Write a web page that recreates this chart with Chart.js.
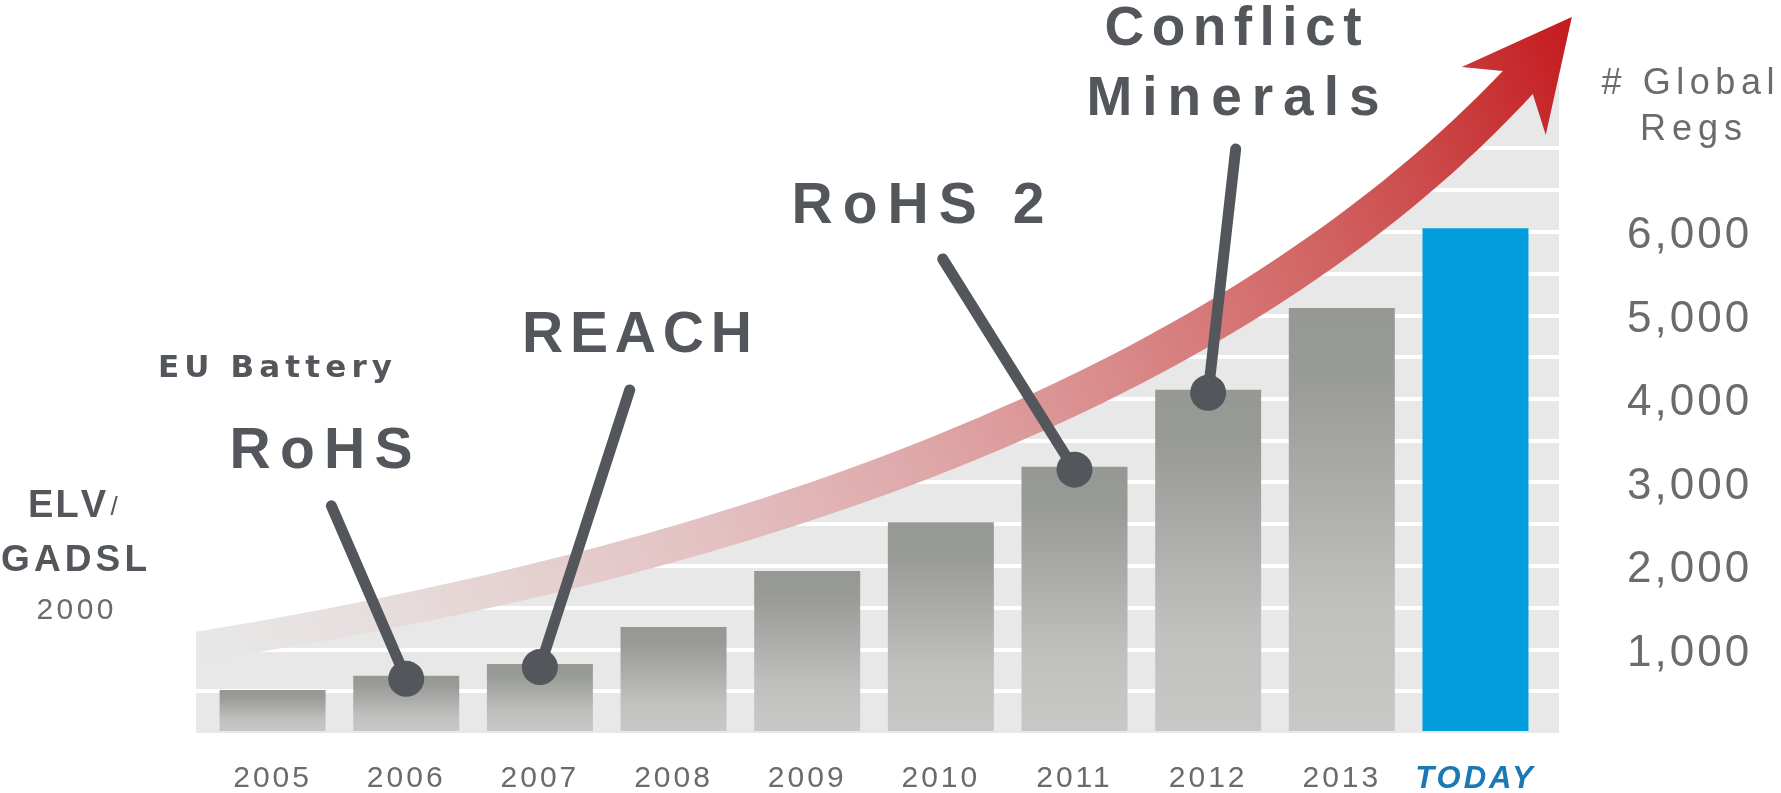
<!DOCTYPE html>
<html>
<head>
<meta charset="utf-8">
<title># Global Regs</title>
<script src="https://cdn.jsdelivr.net/npm/chart.js@4.4.0/dist/chart.umd.min.js"></script>
<style>
  html, body { margin: 0; padding: 0; background: #fff; }
  canvas { display: block; }
</style>
</head>
<body>
<canvas id="regsChart" width="1781" height="793"></canvas>
<script>
// data
const categories = ["2005", "2006", "2007", "2008", "2009", "2010", "2011", "2012", "2013", "TODAY"];
const regCounts = [515, 685, 825, 1270, 1940, 2525, 3190, 4110, 5090, 6045];
const yTickValues = [1000, 2000, 3000, 4000, 5000, 6000];
const gridStep = 500;
const gridMax = 7000;

const DARK = "#53565a";
const GRAY_TEXT = "#6a6c69";
const SANS = '"Liberation Sans", Arial, sans-serif';
const WIDE = '"DejaVu Sans", "Liberation Sans", sans-serif';
const X_MIN = -0.573;
const X_MAX = 9.625;

// arrow outline, in chart units [bar index, regs]
const arrowUpper = [[X_MIN, 1210], [3.986, 2400], [7.247, 4640], [9.205, 7928]];
const arrowLower = [[X_MIN, 850], [4.133, 1984], [7.468, 4251], [9.429, 7653]];
const arrowBarbL = [8.898, 7976];
const arrowTip = [9.721, 8575];
const arrowBarbR = [9.526, 7162];

// callout lines: start point in chart units, end on the bar top
const callouts = [
    { bar: 1, from: [0.44, 2720] },
    { bar: 2, from: [2.672, 4108] },
    { bar: 6, from: [5.014, 5677] },
    { bar: 7, from: [7.206, 6994] }
];

// free text: [text, centre x, baseline y, width, font, colour]
const labels = [
    ["EU Battery", 275, 377, 234, "bold 31px " + WIDE, DARK],
    ["RoHS", 321, 468, 183, "bold 57px " + SANS, DARK],
    ["REACH", 637, 352, 230, "bold 57px " + SANS, DARK],
    ["RoHS 2", 918, 223, 253, "bold 57px " + SANS, DARK],
    ["Conflict", 1233, 45, 257, "bold 55px " + SANS, DARK],
    ["Minerals", 1233, 115, 293, "bold 55px " + SANS, DARK],
    ["ELV", 67, 517, 78, "bold 38px " + SANS, DARK],
    ["/", 114, 515, 8, "26px " + SANS, DARK],
    ["GADSL", 74, 571, 146, "bold 37px " + SANS, DARK],
    ["2000", 75, 619, 77, "30px " + SANS, GRAY_TEXT],
    ["# Global", 1688, 94, 173, "36px " + SANS, GRAY_TEXT],
    ["Regs", 1691, 140, 102, "36px " + SANS, GRAY_TEXT]
];

function pt(chart, p) {
    return { x: chart.scales.x.getPixelForValue(p[0]), y: chart.scales.y.getPixelForValue(p[1]) };
}

function spacedText(ctx, text, cx, y, width, font, color) {
    ctx.font = font;
    ctx.fillStyle = color;
    ctx.textAlign = "left";
    ctx.textBaseline = "alphabetic";
    const chars = [...text];
    const widths = chars.map(ch => ctx.measureText(ch).width);
    const total = widths.reduce((s, w) => s + w, 0);
    if (chars.length < 2) {
        ctx.textAlign = "center";
        ctx.fillText(text, cx, y);
        return;
    }
    const gap = (width - total) / (chars.length - 1);
    let x = cx - width / 2;
    chars.forEach((ch, i) => {
        ctx.fillText(ch, x, y);
        x += widths[i] + gap;
    });
}

const decor = {
    id: "decor",
    beforeDraw(chart) {
        const ctx = chart.ctx;
        const a = chart.chartArea;
        const up = arrowUpper.map(p => pt(chart, p));
        const tip = pt(chart, arrowTip);
        const barbL = pt(chart, arrowBarbL);
        const barbR = pt(chart, arrowBarbR);

        // grey plot background, cut off above the arrow
        ctx.save();
        ctx.fillStyle = "#e8e8e8";
        ctx.beginPath();
        ctx.moveTo(a.left, a.bottom);
        ctx.lineTo(up[0].x, up[0].y);
        ctx.bezierCurveTo(up[1].x, up[1].y, up[2].x, up[2].y, up[3].x, up[3].y);
        ctx.lineTo(barbL.x, barbL.y);
        ctx.lineTo(tip.x, tip.y);
        const t = (tip.x - a.right) / (tip.x - barbR.x);
        ctx.lineTo(a.right, tip.y + t * (barbR.y - tip.y));
        ctx.lineTo(a.right, a.bottom);
        ctx.closePath();
        ctx.fill();
        ctx.restore();

        ctx.letterSpacing = "3px"; // for the axis labels
    },
    beforeDatasetsDraw(chart) {
        const ctx = chart.ctx;
        ctx.letterSpacing = "0px";
        const up = arrowUpper.map(p => pt(chart, p));
        const lo = arrowLower.map(p => pt(chart, p));
        const tip = pt(chart, arrowTip);
        const barbL = pt(chart, arrowBarbL);
        const barbR = pt(chart, arrowBarbR);

        const g = ctx.createLinearGradient(up[0].x, (up[0].y + lo[0].y) / 2, tip.x, tip.y);
        g.addColorStop(0, "#e8e8e8");
        g.addColorStop(0.12, "#e7dddd");
        g.addColorStop(0.22, "#e5d0d0");
        g.addColorStop(0.34, "#e3c1c2");
        g.addColorStop(0.5, "#dea5a6");
        g.addColorStop(0.62, "#da8c8c");
        g.addColorStop(0.775, "#d26666");
        g.addColorStop(0.87, "#cc4a4a");
        g.addColorStop(1, "#c41a1e");

        ctx.save();
        ctx.fillStyle = g;
        ctx.beginPath();
        ctx.moveTo(up[0].x, up[0].y);
        ctx.bezierCurveTo(up[1].x, up[1].y, up[2].x, up[2].y, up[3].x, up[3].y);
        ctx.lineTo(barbL.x, barbL.y);
        ctx.lineTo(tip.x, tip.y);
        ctx.lineTo(barbR.x, barbR.y);
        ctx.lineTo(lo[3].x, lo[3].y);
        ctx.bezierCurveTo(lo[2].x, lo[2].y, lo[1].x, lo[1].y, lo[0].x, lo[0].y);
        ctx.closePath();
        ctx.fill();
        ctx.restore();
    },
    afterDatasetsDraw(chart) {
        const ctx = chart.ctx;
        ctx.save();
        ctx.letterSpacing = "0px";
        ctx.strokeStyle = DARK;
        ctx.fillStyle = DARK;
        ctx.lineWidth = 11;
        ctx.lineCap = "round";
        callouts.forEach(c => {
            const from = pt(chart, c.from);
            const to = pt(chart, [c.bar, regCounts[c.bar]]);
            to.y += 3;
            ctx.beginPath();
            ctx.moveTo(from.x, from.y);
            ctx.lineTo(to.x, to.y);
            ctx.stroke();
            ctx.beginPath();
            ctx.arc(to.x, to.y, 18, 0, Math.PI * 2);
            ctx.fill();
        });
        labels.forEach(l => spacedText(ctx, l[0], l[1], l[2], l[3], l[4], l[5]));
        ctx.restore();
    }
};

function barColor(c) {
    if (c.type !== "data") return "#a8a9a6";
    if (c.dataIndex === categories.length - 1) return "#029ddd";
    const chart = c.chart;
    if (!chart.chartArea) return "#a8a9a6";
    const y = chart.scales.y;
    const top = y.getPixelForValue(regCounts[c.dataIndex]);
    const bottom = y.getPixelForValue(0);
    const g = chart.ctx.createLinearGradient(0, top, 0, bottom);
    g.addColorStop(0, "#969893");
    g.addColorStop(0.15, "#989a96");
    g.addColorStop(0.7, "#c0c0bf");
    g.addColorStop(1, "#c8c8c7");
    return g;
}

new Chart(document.getElementById("regsChart"), {
    type: "bar",
    data: {
        datasets: [{
            data: regCounts.map((v, i) => ({ x: i, y: v })),
            backgroundColor: barColor,
            borderWidth: 0,
            barPercentage: 0.793,
            categoryPercentage: 1
        }]
    },
    options: {
        responsive: false,
        devicePixelRatio: 1,
        animation: false,
        events: [],
        layout: { padding: { left: 196, top: 31.6, right: 0, bottom: 0 } },
        plugins: { legend: { display: false }, tooltip: { enabled: false } },
        scales: {
            x: {
                type: "linear",
                min: X_MIN,
                max: X_MAX,
                offset: false,
                border: { display: false },
                grid: {
                    offset: false,
                    drawOnChartArea: false,
                    drawTicks: true,
                    tickLength: 28,
                    color: "rgba(0,0,0,0)",
                    tickColor: "rgba(0,0,0,0)"
                },
                afterBuildTicks(s) {
                    s.ticks = categories.map((c, i) => ({ value: i }));
                },
                afterFit(s) { s.height = 60; },
                ticks: {
                    autoSkip: false,
                    maxRotation: 0,
                    padding: 0,
                    callback: v => categories[v],
                    color: c => c.index === categories.length - 1 ? "#1a78b4" : GRAY_TEXT,
                    font: c => c.index === categories.length - 1
                        ? { family: SANS, size: 31, weight: "bold", style: "italic" }
                        : { family: SANS, size: 30 }
                }
            },
            y: {
                position: "right",
                min: 0,
                max: 8400,
                border: { display: false },
                afterBuildTicks(s) {
                    const ticks = [];
                    for (let v = 0; v <= s.max; v += gridStep) ticks.push({ value: v });
                    s.ticks = ticks;
                },
                afterFit(s) { s.width = 222; },
                grid: {
                    drawTicks: true,
                    tickLength: 68,
                    tickColor: "rgba(0,0,0,0)",
                    lineWidth: 4,
                    color: c => (c.tick && c.tick.value > 0 && c.tick.value <= gridMax)
                        ? "#ffffff" : "rgba(0,0,0,0)"
                },
                ticks: {
                    autoSkip: false,
                    padding: 0,
                    labelOffset: 4,
                    color: GRAY_TEXT,
                    font: { family: SANS, size: 44 },
                    callback: v => yTickValues.includes(v) ? v.toLocaleString("en-US") : ""
                }
            }
        }
    },
    plugins: [decor]
});
</script>
</body>
</html>
